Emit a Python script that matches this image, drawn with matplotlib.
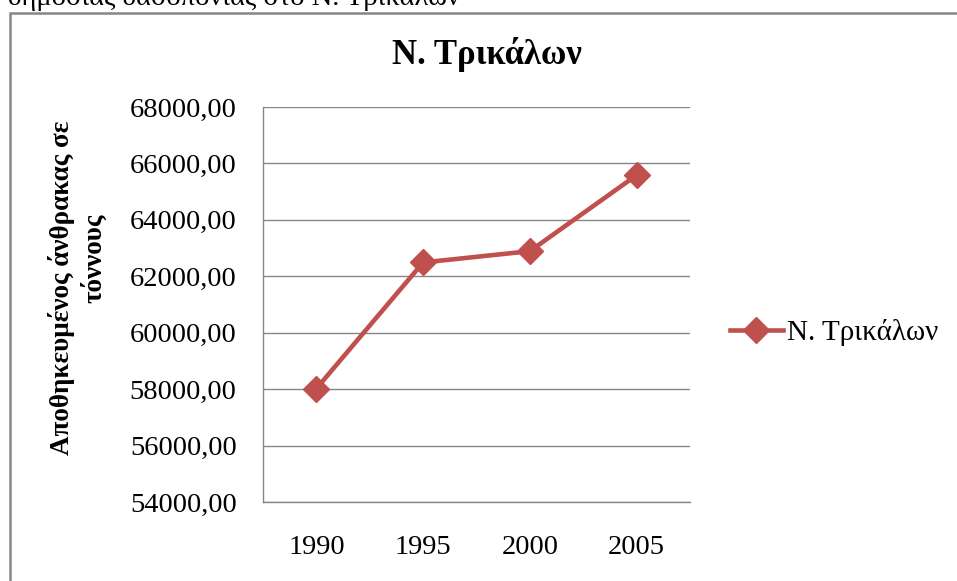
import matplotlib
matplotlib.use('Agg')
import matplotlib.pyplot as plt
from matplotlib.patches import Rectangle

# data
years = ['1990', '1995', '2000', '2005']
carbon = [58020, 62490, 62890, 65585]
yticks = [54000, 56000, 58000, 60000, 62000, 64000, 66000, 68000]
ytick_labels = ['54000,00', '56000,00', '58000,00', '60000,00',
                '62000,00', '64000,00', '66000,00', '68000,00']

W, H = 957, 581
plt.rcParams['font.family'] = ['Liberation Serif', 'DejaVu Serif']

fig = plt.figure(figsize=(W / 100, H / 100), dpi=100)
ax = fig.add_axes([263 / W, 1 - 502 / H, (690 - 263) / W, (502 - 107) / H])

line_color = '#C0504D'
grid_color = '#868686'

x = list(range(len(years)))
ax.plot(x, carbon, color=line_color, lw=3.3, marker='D', markersize=13,
        label='Ν. Τρικάλων')

ax.set_xlim(-0.5, len(years) - 0.5)
ax.set_ylim(54000, 68000)
ax.set_yticks(yticks)
ax.set_yticklabels(ytick_labels, fontsize=20.5)
ax.set_xticks(x)
ax.set_xticklabels(years, fontsize=20.5)
ax.tick_params(axis='y', length=0, pad=19)
ax.tick_params(axis='x', length=0, pad=24)
ax.grid(axis='y', color=grid_color, lw=1)
ax.set_axisbelow(True)
for s in ['top', 'right']:
    ax.spines[s].set_visible(False)
for s in ['left', 'bottom']:
    ax.spines[s].set_color(grid_color)
    ax.spines[s].set_linewidth(1)

# title and axis label
fig.text(487 / W, 1 - 55 / H, 'Ν. Τρικάλων', fontsize=25, fontweight='bold',
         ha='center', va='center')
fig.text(62 / W, 1 - 288 / H, 'Αποθηκευμένος άνθρακας σε', fontsize=19.5,
         fontweight='bold', rotation=90, ha='center', va='center')
fig.text(94 / W, 1 - 258 / H, 'τόννους', fontsize=19.5,
         fontweight='bold', rotation=90, ha='center', va='center')

ax.legend(loc='center left', bbox_to_anchor=(730 / W, 1 - 333 / H),
          bbox_transform=fig.transFigure, frameon=False, fontsize=21,
          handlelength=1.8, handletextpad=0.17, borderpad=0, borderaxespad=0)

# text cut off above the chart and the chart frame
fig.text(8 / W, 1 - 5 / H, 'δημόσιας δασοπονίας στο Ν. Τρικάλων',
         fontsize=20.5, ha='left', va='baseline')
fig.add_artist(Rectangle((10 / W, -0.1), 1.1, 1.1 - 13 / H,
                         transform=fig.transFigure, fill=False,
                         edgecolor=grid_color, lw=1.8, clip_on=False))

fig.savefig('out.png', dpi=100)
